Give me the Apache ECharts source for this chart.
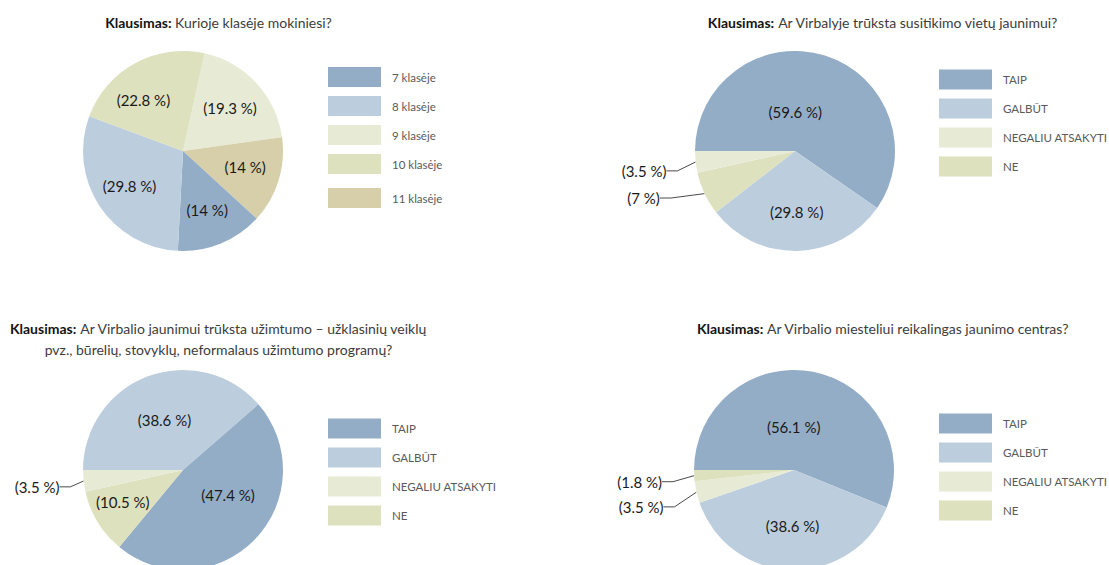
<!DOCTYPE html>
<html>
<head>
<meta charset="utf-8">
<script src="https://cdn.jsdelivr.net/npm/echarts@6/dist/echarts.min.js"></script>
<style>
  html, body { margin: 0; padding: 0; background: #ffffff; }
  #chart { width: 1109px; height: 565px; }
</style>
</head>
<body>
<div id="chart"></div>
<script>
// ---- Survey answers (percent of respondents), one question per pie ----
const titlePrefix = 'Klausimas:';

const q1Title = 'Kurioje klasėje mokiniesi?';
const q1Categories = ['9 klasėje', '11 klasėje', '7 klasėje', '8 klasėje', '10 klasėje'];
const q1Values = [19.3, 14, 14, 29.8, 22.8];
const q1LegendOrder = ['7 klasėje', '8 klasėje', '9 klasėje', '10 klasėje', '11 klasėje'];

const q2Title = 'Ar Virbalyje trūksta susitikimo vietų jaunimui?';
const q2Categories = ['TAIP', 'GALBŪT', 'NE', 'NEGALIU ATSAKYTI'];
const q2Values = [59.6, 29.8, 7, 3.5];

const q3Title = 'Ar Virbalio jaunimui trūksta užimtumo – užklasinių veiklų\npvz., būrelių, stovyklų, neformalaus užimtumo programų?';
const q3Categories = ['GALBŪT', 'TAIP', 'NE', 'NEGALIU ATSAKYTI'];
const q3Values = [38.6, 47.4, 10.5, 3.5];

const q4Title = 'Ar Virbalio miesteliui reikalingas jaunimo centras?';
const q4Categories = ['TAIP', 'GALBŪT', 'NEGALIU ATSAKYTI', 'NE'];
const q4Values = [56.1, 38.6, 3.5, 1.8];

const answerLegendOrder = ['TAIP', 'GALBŪT', 'NEGALIU ATSAKYTI', 'NE'];

// ---- Styling ----
const FONT = 'Lato, "Noto Sans", sans-serif';
const RADIUS = 100;
const OUTSIDE_BELOW = 8; // slices smaller than this get an outside label with a leader line

const sliceColors = {
  '7 klasėje': '#94adc6',
  '8 klasėje': '#bccedd',
  '9 klasėje': '#e7ebd6',
  '10 klasėje': '#dde1bd',
  '11 klasėje': '#d6cfa9',
  'TAIP': '#94adc6',
  'GALBŪT': '#bccedd',
  'NEGALIU ATSAKYTI': '#e7ebd6',
  'NE': '#dde1bd'
};

// Panel layout: pie centre, rotation, label ring, title and legend placement,
// plus small label nudges keyed by category.
const panels = [
  {
    title: q1Title, categories: q1Categories, values: q1Values,
    legendGroups: [q1LegendOrder.slice(0, 4), q1LegendOrder.slice(4)],
    center: [183, 151], startAngle: 77.5, labelInner: 22,
    titleX: 218.5, titleY: 12, titleLineHeight: 20,
    legendX: 328, legendY: [67, 188],
    nudge: { '10 klasėje': [-9, 5], '11 klasėje': [1, -3] }
  },
  {
    title: q2Title, categories: q2Categories, values: q2Values,
    legendGroups: [answerLegendOrder],
    center: [795, 151], startAngle: 180, labelInner: 16,
    titleX: 883, titleY: 12.5, titleLineHeight: 20,
    legendX: 939, legendY: [69.5],
    nudge: { 'TAIP': [-18, 19], 'NEGALIU ATSAKYTI': [-3, 8], 'NE': [-7, 1] }
  },
  {
    title: q3Title, categories: q3Categories, values: q3Values,
    legendGroups: [answerLegendOrder],
    center: [183, 470], startAngle: 180, labelInner: 0,
    titleX: 218.5, titleY: 318, titleLineHeight: 21,
    legendX: 328, legendY: [418.5],
    nudge: { 'TAIP': [7, -12], 'NE': [-15, 4], 'NEGALIU ATSAKYTI': [2, 5] }
  },
  {
    title: q4Title, categories: q4Categories, values: q4Values,
    legendGroups: [answerLegendOrder],
    center: [794, 470], startAngle: 180, labelInner: 6,
    titleX: 883, titleY: 318.5, titleLineHeight: 20,
    legendX: 939, legendY: [413.5],
    nudge: { 'TAIP': [-11, 12], 'NEGALIU ATSAKYTI': [-7, 13], 'NE': [-6, 5.6] }
  }
];

function pctText(v) { return '(' + v + ' %)'; }

// Shift a label from its default anchor; absolute x/y makes ECharts
// re-route the leader line to the moved label.
function nudgeLayout(panel) {
  return function (params) {
    const name = panel.categories[params.dataIndex];
    const n = panel.nudge[name];
    if (!n) return {};
    const r = params.labelRect;
    let ax = r.x;
    if (params.align === 'right') ax = r.x + r.width;
    else if (params.align === 'center') ax = r.x + r.width / 2;
    let ay = r.y + r.height / 2;
    if (params.verticalAlign === 'top') ay = r.y;
    else if (params.verticalAlign === 'bottom') ay = r.y + r.height;
    return { x: ax + n[0], y: ay + n[1] };
  };
}

const titles = [];
const legends = [];
const fillSeries = [];
const labelSeries = [];

panels.forEach(function (p) {
  titles.push({
    text: '{b|' + titlePrefix + '} ' + p.title,
    left: p.titleX,
    top: p.titleY,
    textAlign: 'center',
    padding: 0,
    textStyle: {
      fontFamily: FONT, fontSize: 14, fontWeight: 'normal', color: '#3c3c3c',
      lineHeight: p.titleLineHeight,
      rich: {
        b: { fontFamily: FONT, fontSize: 14, fontWeight: 'bold', color: '#141414', lineHeight: p.titleLineHeight }
      }
    }
  });

  p.legendGroups.forEach(function (names, gi) {
    legends.push({
      orient: 'vertical',
      left: p.legendX,
      top: p.legendY[gi],
      padding: 0,
      data: names,
      icon: 'rect',
      itemWidth: 53,
      itemHeight: 20,
      itemGap: 9,
      selectedMode: false,
      itemStyle: { borderWidth: 0 },
      textStyle: { fontFamily: FONT, fontSize: 11.5, color: '#5a5a5a', padding: [0, 0, 0, 6] }
    });
  });

  const items = p.categories.map(function (name, k) {
    return { name: name, value: p.values[k] };
  });

  // Filled slices; the thin ones carry an outside label with a leader line.
  fillSeries.push({
    type: 'pie',
    center: p.center,
    radius: [0, RADIUS],
    startAngle: p.startAngle,
    clockwise: true,
    avoidLabelOverlap: false,
    silent: true,
    data: items.map(function (d) {
      const outside = d.value < OUTSIDE_BELOW;
      return {
        name: d.name, value: d.value,
        itemStyle: { color: sliceColors[d.name] },
        label: { show: outside },
        labelLine: { show: outside }
      };
    }),
    label: {
      position: 'outside',
      distanceToLabelLine: 2,
      formatter: function (prm) { return '{o|' + pctText(prm.value) + '}'; },
      rich: { o: { width: 50, align: 'center', fontFamily: FONT, fontSize: 15, color: '#1a1a1a' } }
    },
    labelLine: { length: 8, length2: 11, smooth: false, minTurnAngle: 0, lineStyle: { color: '#4a4a4a', width: 1 } },
    labelLayout: nudgeLayout(p)
  });

  // Transparent ring on top that places the in-slice percentage labels.
  labelSeries.push({
    type: 'pie',
    center: p.center,
    radius: [p.labelInner, RADIUS],
    startAngle: p.startAngle,
    clockwise: true,
    silent: true,
    itemStyle: { color: 'rgba(0,0,0,0)' },
    data: items.map(function (d) {
      return { name: d.name, value: d.value, label: { show: d.value >= OUTSIDE_BELOW } };
    }),
    label: {
      position: 'inside',
      formatter: function (prm) { return pctText(prm.value); },
      fontFamily: FONT, fontSize: 15, color: '#1a1a1a'
    },
    labelLine: { show: false },
    labelLayout: nudgeLayout(p)
  });
});

const chart = echarts.init(document.getElementById('chart'), null, { renderer: 'svg' });
chart.setOption({
  animation: false,
  backgroundColor: '#ffffff',
  title: titles,
  legend: legends,
  tooltip: { show: false },
  series: fillSeries.concat(labelSeries)
});
</script>
</body>
</html>
